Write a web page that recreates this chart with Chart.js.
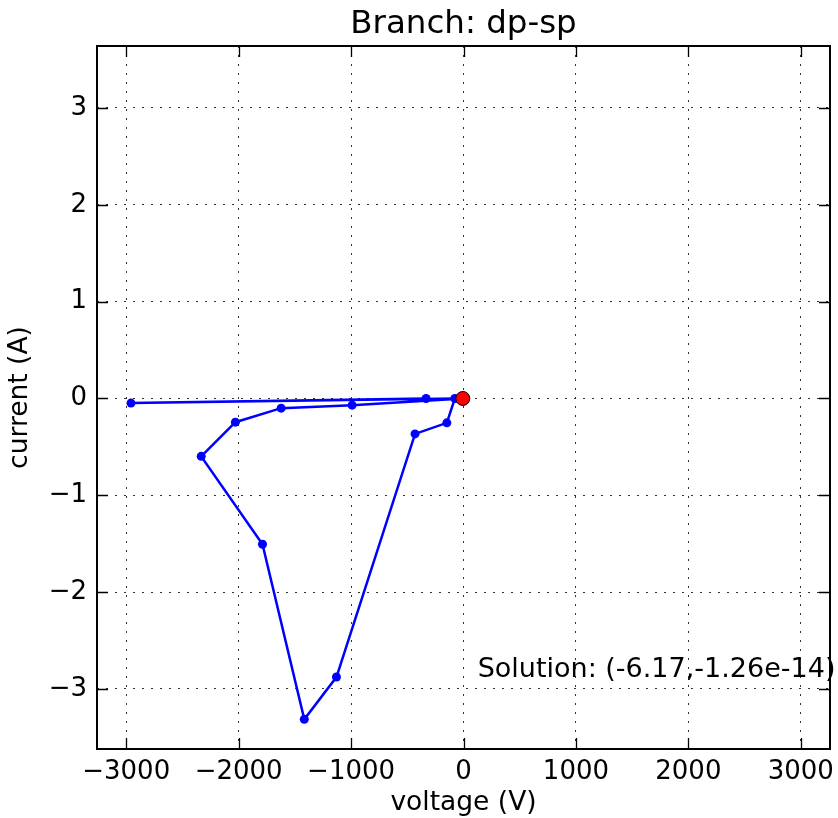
<!DOCTYPE html>
<html>
<head>
<meta charset="utf-8">
<title>Branch: dp-sp</title>
<script src="https://cdn.jsdelivr.net/npm/chart.js"></script>
<style>
    body { margin: 0; background: #fff; }
    #contenedorGrafico { width: 838px; height: 818px; }
</style>
</head>
<body>
<div id="contenedorGrafico">
    <canvas id="graficoRama" width="838" height="818"></canvas>
</div>
<script>
// recorrido de las iteraciones (voltaje en V, corriente en A)
var voltaje = [-333, -2958, -77, -148, -431, -1130, -1416, -1788, -2333, -2029, -1622, -991, -6.17];
var corriente = [0, -0.048, 0, -0.252, -0.366, -2.877, -3.313, -1.506, -0.598, -0.245, -0.10, -0.069, -1.26e-14];

// solucion final
var solucionV = [-6.17];
var solucionI = [-1.26e-14];

var ticksX = [-3000, -2000, -1000, 0, 1000, 2000, 3000];
var ticksY = [-3, -2, -1, 0, 1, 2, 3];

var textoSolucion = 'Solution: (-6.17,-1.26e-14)';
var textoX = 126;
var textoY = -2.88;

var fuente = '"DejaVu Sans", "Bitstream Vera Sans", sans-serif';

function menos(v) {
    return v < 0 ? '\u2212' + Math.abs(v) : '' + v;
}

// marco negro y ticks hacia adentro, como matplotlib
var marcoPlugin = {
    id: 'marco',
    afterDraw: function (chart) {
        var ctx = chart.ctx;
        var a = chart.chartArea;
        var sx = chart.scales.x;
        var sy = chart.scales.y;
        ctx.save();

        ctx.font = '27px ' + fuente;
        ctx.fillStyle = '#000';
        ctx.textAlign = 'left';
        ctx.textBaseline = 'alphabetic';
        ctx.fillText(textoSolucion, sx.getPixelForValue(textoX), sy.getPixelForValue(textoY));

        ctx.strokeStyle = '#000';
        ctx.lineWidth = 1.3;
        ctx.beginPath();
        ticksX.forEach(function (v) {
            var px = Math.round(sx.getPixelForValue(v)) + 0.5;
            ctx.moveTo(px, a.bottom); ctx.lineTo(px, a.bottom - 11);
            ctx.moveTo(px, a.top); ctx.lineTo(px, a.top + 11);
        });
        ticksY.forEach(function (v) {
            var py = Math.round(sy.getPixelForValue(v)) + 0.5;
            ctx.moveTo(a.left, py); ctx.lineTo(a.left + 11, py);
            ctx.moveTo(a.right, py); ctx.lineTo(a.right - 11, py);
        });
        ctx.stroke();

        ctx.lineWidth = 2;
        ctx.strokeRect(a.left, a.top, a.right - a.left, a.bottom - a.top);
        ctx.restore();
    }
};

var ctx = document.getElementById('graficoRama').getContext('2d');
var chart = new Chart(ctx, {
    type: 'scatter',
    data: {
        datasets: [{
            label: 'solucion',
            data: solucionV.map(function (v, i) { return { x: v, y: solucionI[i] }; }),
            backgroundColor: '#ff0000',
            borderColor: '#000',
            borderWidth: 1,
            pointRadius: 7,
            showLine: false,
            order: 0
        }, {
            label: 'iteraciones',
            data: voltaje.map(function (v, i) { return { x: v, y: corriente[i] }; }),
            borderColor: '#0000ff',
            backgroundColor: '#0000ff',
            borderWidth: 2.5,
            pointRadius: 4.5,
            pointBorderWidth: 0,
            showLine: true,
            tension: 0,
            order: 1
        }]
    },
    options: {
        responsive: false,
        animation: false,
        devicePixelRatio: 1,
        layout: { padding: { left: 0, right: 5, top: 0, bottom: 0 } },
        plugins: {
            legend: { display: false },
            tooltip: { enabled: false },
            title: {
                display: true,
                fullSize: false,
                text: 'Branch: dp-sp',
                color: '#000',
                font: { family: fuente, size: 32.5, weight: 'normal', lineHeight: 1.2 },
                padding: { top: 5, bottom: 2 }
            }
        },
        scales: {
            x: {
                type: 'linear',
                min: -3260,
                max: 3260,
                afterBuildTicks: function (s) { s.ticks = ticksX.map(function (v) { return { value: v }; }); },
                afterFit: function (s) { s.height = 69; s.paddingLeft = 0; s.paddingRight = 0; },
                ticks: {
                    color: '#000',
                    padding: 8,
                    maxRotation: 0,
                    font: { family: fuente, size: 26 },
                    callback: function (v) { return menos(v); }
                },
                grid: { color: '#333', lineWidth: 1, drawTicks: false },
                border: { display: false, dash: [2, 7] },
                title: {
                    display: true,
                    text: 'voltage (V)',
                    color: '#000',
                    font: { family: fuente, size: 26.5, lineHeight: 1.1 },
                    padding: { top: 0, bottom: 0 }
                }
            },
            y: {
                type: 'linear',
                min: -3.62,
                max: 3.64,
                afterBuildTicks: function (s) { s.ticks = ticksY.map(function (v) { return { value: v }; }); },
                afterFit: function (s) { s.width = 97; s.paddingTop = 0; s.paddingBottom = 0; },
                ticks: {
                    color: '#000',
                    padding: 10,
                    font: { family: fuente, size: 26 },
                    callback: function (v) { return menos(v); }
                },
                grid: { color: '#333', lineWidth: 1, drawTicks: false },
                border: { display: false, dash: [2, 7] },
                title: {
                    display: true,
                    text: 'current (A)',
                    color: '#000',
                    font: { family: fuente, size: 26.5, lineHeight: 1.2 },
                    padding: { top: 4.5, bottom: 0 }
                }
            }
        }
    },
    plugins: [marcoPlugin]
});
</script>
</body>
</html>
